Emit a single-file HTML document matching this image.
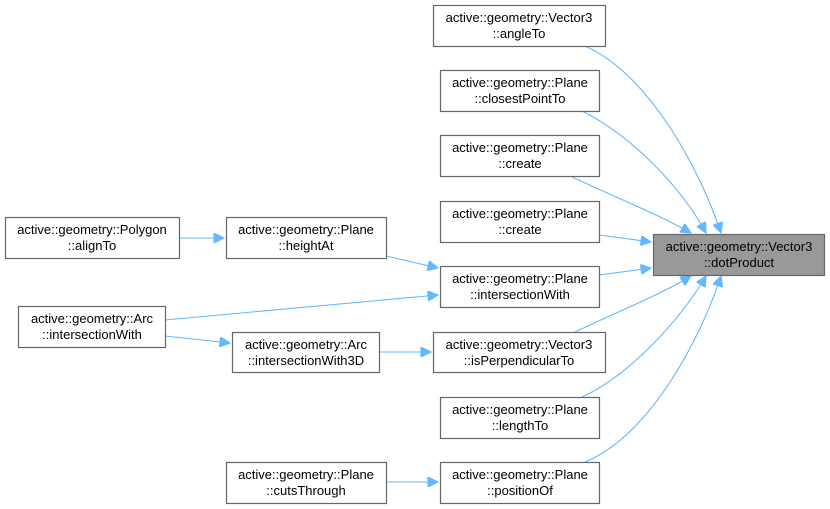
<!DOCTYPE html>
<html><head><meta charset="utf-8"><style>
html,body{margin:0;padding:0;background:#fff;width:830px;height:509px;overflow:hidden}
svg{display:block}
text{font-family:"Liberation Sans",Arial,sans-serif;font-size:13px;fill:#000;text-anchor:middle}
rect{fill:#fff;stroke:#666;stroke-width:1.2}
path{fill:none;stroke:#63b8ff;stroke-width:1.1}
</style></head><body>
<svg width="830" height="509" viewBox="0 0 830 509">
<defs><marker id="a" viewBox="0 0 10 10" refX="10" refY="5" markerWidth="13" markerHeight="10" markerUnits="userSpaceOnUse" orient="auto"><path d="M0,0 L10,5 L0,10 z" style="fill:#63b8ff;stroke:#63b8ff"/></marker></defs>
<path marker-end="url(#a)" d="M585,46 C650,75 700,170 721,233"/>
<path marker-end="url(#a)" d="M582,111 C630,135 680,185 706,233"/>
<path marker-end="url(#a)" d="M570,176 C610,195 660,215 691,233"/>
<path marker-end="url(#a)" d="M599,235 L651,242"/>
<path marker-end="url(#a)" d="M599,275 L651,268"/>
<path marker-end="url(#a)" d="M575,332 C610,315 660,295 691,276"/>
<path marker-end="url(#a)" d="M582,397 C630,375 680,320 706,276"/>
<path marker-end="url(#a)" d="M585,462 C650,435 700,340 721,276"/>
<path marker-end="url(#a)" d="M179,238 L224,238"/>
<path marker-end="url(#a)" d="M386,256 L438,268"/>
<path marker-end="url(#a)" d="M165,320 L438,295"/>
<path marker-end="url(#a)" d="M165,336 L230,343"/>
<path marker-end="url(#a)" d="M380,352 L431,352"/>
<path marker-end="url(#a)" d="M386,482 L438,482"/>
<rect x="653.5" y="234.5" width="171" height="41" style="fill:#999"/>
<text x="739" y="251">active::geometry::Vector3</text><text x="739" y="267">::dotProduct</text>
<rect x="433.5" y="5.5" width="172" height="41"/><text x="519" y="22">active::geometry::Vector3</text><text x="519" y="38">::angleTo</text>
<rect x="440.5" y="70.5" width="159" height="41"/><text x="520" y="87">active::geometry::Plane</text><text x="520" y="103">::closestPointTo</text>
<rect x="440.5" y="135.5" width="159" height="41"/><text x="520" y="152">active::geometry::Plane</text><text x="520" y="168">::create</text>
<rect x="440.5" y="201.5" width="159" height="41"/><text x="520" y="218">active::geometry::Plane</text><text x="520" y="234">::create</text>
<rect x="440.5" y="266.5" width="159" height="41"/><text x="520" y="283">active::geometry::Plane</text><text x="520" y="299">::intersectionWith</text>
<rect x="433.5" y="332.5" width="172" height="40"/><text x="519" y="349">active::geometry::Vector3</text><text x="519" y="365">::isPerpendicularTo</text>
<rect x="440.5" y="397.5" width="159" height="41"/><text x="520" y="414">active::geometry::Plane</text><text x="520" y="430">::lengthTo</text>
<rect x="440.5" y="462.5" width="159" height="41"/><text x="520" y="479">active::geometry::Plane</text><text x="520" y="495">::positionOf</text>
<rect x="5.5" y="217.5" width="174" height="41"/><text x="92" y="234">active::geometry::Polygon</text><text x="92" y="250">::alignTo</text>
<rect x="226.5" y="217.5" width="160" height="41"/><text x="306" y="234">active::geometry::Plane</text><text x="306" y="250">::heightAt</text>
<rect x="18.5" y="306.5" width="147" height="41"/><text x="92" y="323">active::geometry::Arc</text><text x="92" y="339">::intersectionWith</text>
<rect x="232.5" y="332.5" width="147" height="40"/><text x="306" y="349">active::geometry::Arc</text><text x="306" y="365">::intersectionWith3D</text>
<rect x="226.5" y="462.5" width="160" height="41"/><text x="306" y="479">active::geometry::Plane</text><text x="306" y="495">::cutsThrough</text>
</svg>
</body></html>
